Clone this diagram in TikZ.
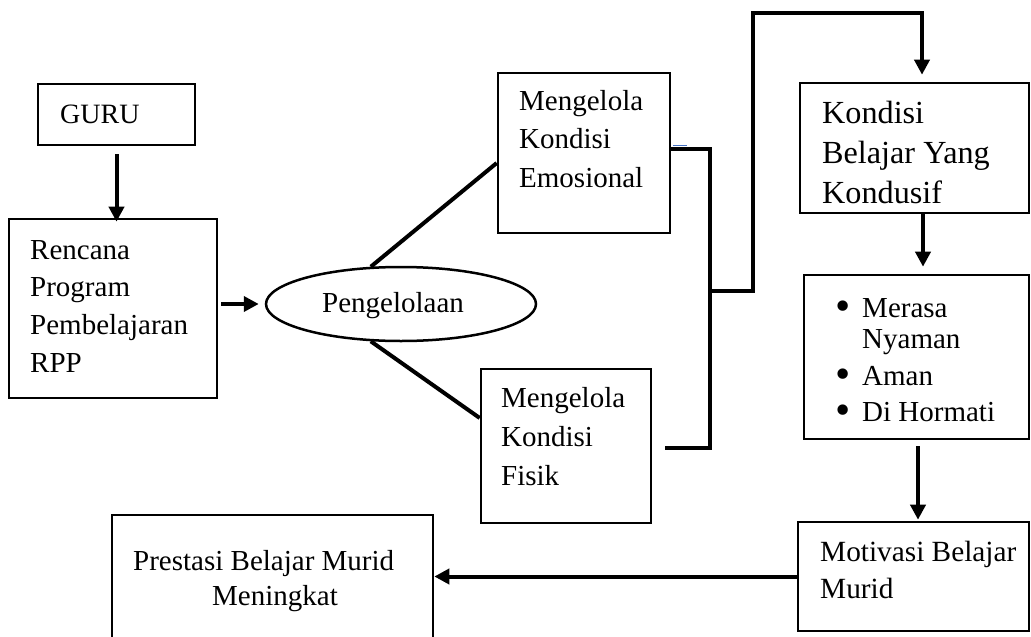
\documentclass[tikz,border=0pt]{standalone}
\usepackage{fontspec}
\usepackage{graphicx}
\setmainfont{Liberation Serif}
\usetikzlibrary{arrows.meta,shapes.geometric}
\newcommand\tlines[1]{\begin{tabular}[t]{@{}l@{}}#1\end{tabular}}
\newcommand\bigbul{\raisebox{-3.2pt}{\scalebox{1.5}{\textbullet}}}
\definecolor{tickblue}{RGB}{68,114,196}
\begin{document}
\begin{tikzpicture}[x=1pt,y=-1pt,
  box/.style={draw, rectangle, line width=2.6pt, inner sep=0pt},
  oval/.style={draw, ellipse, line width=2.5pt, inner sep=0pt},
  txt/.style={inner sep=0pt, anchor=base west, font=\fontsize{29}{38}\selectfont},
  conn/.style={line width=4pt, line join=miter},
  arr/.style={conn, -{Triangle[length=15pt,width=15pt]}}]
\useasboundingbox (0,0) rectangle (1031,637);
\clip (0,0) rectangle (1031,637);

% boxes
\node[box, minimum width=157pt, minimum height=61pt] (guru) at (116.5,114.5) {};
\node[box, minimum width=208pt, minimum height=179pt] (rencana) at (113,308.5) {};
\node[oval, minimum width=270pt, minimum height=74pt] (peng) at (401,304) {};
\node[box, minimum width=172pt, minimum height=160pt] (emo) at (584,153) {};
\node[box, minimum width=170pt, minimum height=154pt] (fis) at (566,446) {};
\node[box, minimum width=229pt, minimum height=130pt] (kond) at (914.5,148) {};
\node[box, minimum width=225pt, minimum height=164pt] (bul) at (916.5,357) {};
\node[box, minimum width=231pt, minimum height=109pt] (motiv) at (913.5,576.5) {};
\node[box, minimum width=321pt, minimum height=130pt] (prest) at (272.5,580) {};

% texts
\node[txt, font=\fontsize{28}{38}\selectfont] (tguru) at (60,123) {GURU};
\node[txt, font=\fontsize{29}{37.7}\selectfont] (trencana) at (30,259) {\tlines{Rencana\\Program\\Pembelajaran\\RPP}};
\node[txt] (tpeng) at (322,312) {Pengelolaan};
\node[txt, font=\fontsize{29}{38.5}\selectfont] (temo) at (519,110) {\tlines{Mengelola\\Kondisi\\Emosional}};
\node[txt, font=\fontsize{29}{39}\selectfont] (tfis) at (501,407) {\tlines{Mengelola\\Kondisi\\Fisik}};
\node[txt, font=\fontsize{32.2}{40}\selectfont] (tkond) at (822,123) {\tlines{Kondisi\\Belajar Yang\\Kondusif}};
\node[txt, font=\fontsize{29}{31}\selectfont] (tbul) at (834.8,317) {\begin{tabular}[t]{@{}l@{\hspace{12pt}}l@{}}\bigbul & Merasa\\ & Nyaman\\[6pt] \bigbul & Aman\\[5pt] \bigbul & Di Hormati\end{tabular}};
\node[txt, font=\fontsize{29.3}{37}\selectfont] (tmotiv) at (820,561) {\tlines{Motivasi Belajar\\Murid}};
\node[txt, font=\fontsize{29}{35}\selectfont] (tprest) at (133,570) {\tlines{Prestasi Belajar Murid\\\hspace*{79pt}Meningkat}};

% connectors
\coordinate (bj) at (710,291);
\coordinate (up1) at (753,13);
\draw[arr, shorten >=4pt] ([yshift=-8pt]guru.south) -- ([yshift=-8pt]guru.south |- rencana.north);
\draw[arr, shorten >=6pt] ([xshift=3pt]rencana.east |- peng.west) -- (peng.west);
\draw[conn] (peng.129) -- ([yshift=-10pt]emo.west);
\draw[conn] (peng.231) -- ([yshift=28pt]fis.west);
\draw[conn] ([yshift=4pt]emo.east) -| (bj) |- ([xshift=13pt,yshift=-2pt]fis.east);
\draw[arr, shorten >=7pt] (bj) -| (up1) -| ([xshift=7.5pt]kond.north);
\draw[arr, shorten >=7pt] ([xshift=8.5pt]kond.south) -- ([xshift=8.5pt]kond.south |- bul.north);
\draw[arr, shorten >=1pt] ([xshift=1.5pt,yshift=-6pt]bul.south) -- ([xshift=1.5pt]bul.south |- motiv.north);
\draw[arr] (motiv.west) -- (motiv.west -| prest.east);

% small blue mark
\draw[tickblue, line width=1pt] (673,145.5) -- (687,145.5);
\end{tikzpicture}
\end{document}
